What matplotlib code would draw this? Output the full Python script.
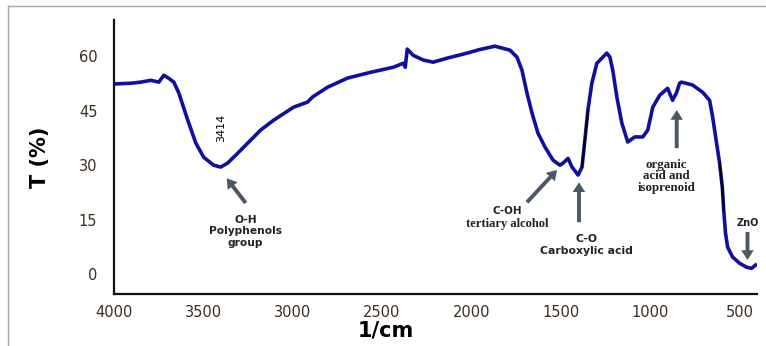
import numpy as np
import matplotlib.pyplot as plt
from matplotlib.lines import Line2D

# FTIR spectrum
wavenumber = [3995, 3905, 3850, 3793, 3749, 3721, 3695, 3665, 3637, 3587, 3542, 3498,
              3442, 3403, 3364, 3308, 3274, 3179, 3107, 2995, 2917, 2889, 2805,
              2694, 2565, 2437, 2381, 2370, 2359, 2326, 2270, 2214, 2136, 2024,
              1952, 1868, 1784, 1745, 1717, 1689, 1661, 1627, 1588, 1543, 1504,
              1487, 1459, 1437, 1403, 1381, 1365, 1348, 1326, 1298, 1242, 1225,
              1209, 1186, 1158, 1125, 1086, 1041, 1013, 985, 946, 902, 874, 851,
              835, 824, 762, 706, 667, 650, 628, 611, 596, 588, 578, 566, 538, 499,
              460, 432, 410]
transmittance = [52.4, 52.6, 52.9, 53.4, 52.9, 54.8, 54.0, 52.9, 49.9, 42.4, 36.1, 32.2,
                 30.0, 29.5, 30.6, 33.3, 35.0, 39.7, 42.4, 46.0, 47.4, 48.8, 51.5,
                 54.0, 55.6, 57.0, 58.1, 57.0, 62.0, 60.3, 59.0, 58.4, 59.5, 60.9,
                 61.9, 62.8, 61.7, 59.8, 56.2, 49.9, 44.4, 38.8, 35.0, 31.4, 30.0,
                 30.6, 31.9, 29.5, 27.3, 29.5, 36.9, 45.2, 52.6, 58.1, 60.9, 59.8,
                 56.2, 48.8, 41.6, 36.4, 37.8, 37.8, 39.7, 46.0, 49.3, 51.2, 47.9, 50.1,
                 52.6, 52.9, 52.1, 50.1, 47.9, 43.3, 36.1, 30.6, 24.0, 17.6, 11.3, 7.4,
                 4.7, 3.0, 1.9, 1.6, 2.5]

x_ticks = [4000, 3500, 3000, 2500, 2000, 1500, 1000, 500]
y_ticks = [0, 15, 30, 45, 60]

wn = np.array(wavenumber)
tr = np.array(transmittance)

fig = plt.figure(figsize=(7.66, 3.46), dpi=100)
ax = fig.add_axes([0.1488, 0.150, 0.8394, 0.792])

ax.plot(wn, tr, color='#1010a0', lw=2.6, solid_joinstyle='round')
# darker hatched look on the steep parts
for lo, hi in [(1345, 1385), (585, 615)]:
    m = (wn >= lo) & (wn <= hi)
    ax.plot(wn[m], tr[m], color='black', lw=1.4)

ax.set_xlim(4000, 402)
ax.set_ylim(-5.5, 70)
ax.set_xticks(x_ticks)
ax.set_yticks(y_ticks)
ax.tick_params(length=0, labelsize=10.5, labelcolor='#3a2e22')
ax.tick_params(axis='y', pad=12)
ax.tick_params(axis='x', pad=8)
for s in ['top', 'right']:
    ax.spines[s].set_visible(False)
for s in ['left', 'bottom']:
    ax.spines[s].set_linewidth(1.6)
    ax.spines[s].set_color('#111111')

fig.text(0.052, 0.545, 'T (%)', rotation=90, fontsize=15, fontweight='bold',
         ha='center', va='center')
fig.text(0.504, 0.046, '1/cm', fontsize=15, fontweight='bold', ha='center', va='center')

arrow_c = '#4b5868'
aprops = dict(arrowstyle='simple,head_width=0.9,head_length=0.7,tail_width=0.28',
              color=arrow_c, lw=0, shrinkA=0, shrinkB=0)

ax.text(3400, 40.2, '3414', rotation=90, fontsize=8, ha='center', va='center')

ax.annotate('', xy=(3369, 26.4), xytext=(3263, 19.6), arrowprops=aprops)
ax.text(3263, 11.8, 'O-H\nPolyphenols\ngroup', fontsize=7.7, fontweight='bold',
        ha='center', va='center', linespacing=1.2, color='#222222')

ax.annotate('', xy=(1521, 28.7), xytext=(1689, 19.8), arrowprops=aprops)
ax.text(1800, 15.9, 'C-OH', fontsize=7.5, fontweight='bold', ha='center', va='bottom',
        color='#222222')
ax.text(1800, 15.5, 'tertiary alcohol', fontsize=9, fontweight='bold', ha='center',
        va='top', family='Liberation Serif', color='#222222')

ax.annotate('', xy=(1398, 25.3), xytext=(1398, 14.3), arrowprops=aprops)
ax.text(1354, 8.0, 'C-O\nCarboxylic acid', fontsize=7.8, fontweight='bold',
        ha='center', va='center', linespacing=1.25, color='#222222')

ax.annotate('', xy=(851, 45.2), xytext=(851, 34.7), arrowprops=aprops)
ax.text(907, 27.0, 'organic\nacid and\nisoprenoid', fontsize=9.3, fontweight='bold',
        ha='center', va='center', family='Liberation Serif', linespacing=0.95,
        color='#222222')

ax.text(455, 14.0, 'ZnO', fontsize=7, fontweight='bold', ha='center', va='center',
        color='#222222')
ax.annotate('', xy=(455, 3.9), xytext=(455, 11.6), arrowprops=aprops)

# outer frame of the original image
fig.add_artist(Line2D([0.0104, 1.0], [0.983, 0.983], color='#a8a8a8', lw=1))
fig.add_artist(Line2D([0.0104, 0.0104], [0.0, 0.983], color='#a8a8a8', lw=1))

fig.savefig('out.png', dpi=100)
